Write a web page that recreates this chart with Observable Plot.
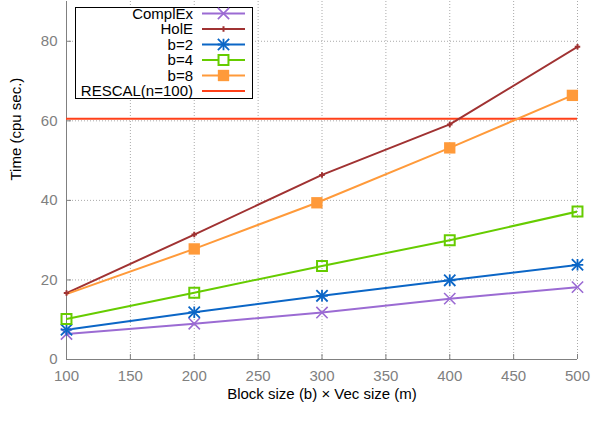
<!DOCTYPE html>
<html>
<head>
<meta charset="utf-8">
<script src="https://cdn.jsdelivr.net/npm/d3@7"></script>
<script src="https://cdn.jsdelivr.net/npm/@observablehq/plot@0.6"></script>
<style>
  html, body { margin: 0; padding: 0; background: white; }
</style>
</head>
<body>
<div id="chart"></div>
<script>
// ---- data ----
const xValues   = [100, 200, 300, 400, 500];
const xValuesB8 = [96, 200, 296, 400, 496];   // b=8 needs m integer: 8*12, 8*37, 8*62
const complEx   = [6.4, 9.0, 11.8, 15.3, 18.2];
const holE      = [16.7, 31.4, 46.4, 59.1, 78.6];
const b2        = [7.5, 11.9, 16.0, 19.9, 23.8];
const b4        = [10.2, 16.8, 23.5, 30.0, 37.2];
const b8        = [16.0, 27.8, 39.4, 53.2, 66.4];
const rescal    = 60.5;

const xTicks = [100, 150, 200, 250, 300, 350, 400, 450, 500];
const yTicks = [0, 20, 40, 60, 80];

const seriesNames  = ["ComplEx", "HolE", "b=2", "b=4", "b=8"];
const rescalName   = "RESCAL(n=100)";
const seriesColors = ["#9b6bd3", "#a03232", "#0b66c6", "#66cc00", "#ff9a3a"];
const rescalColor  = "#ff4019";

const xTitle = "Block size (b) \u00d7 Vec size (m)";
const yTitle = "Time (cpu sec.)";

// ---- tables ----
const toRows = (xs, ys) => xs.map((x, i) => ({x, y: ys[i]}));
const tables = [
  toRows(xValues, complEx),
  toRows(xValues, holE),
  toRows(xValues, b2),
  toRows(xValues, b4),
  toRows(xValuesB8, b8)
];

// marker styles (symbol, r, fill, strokeWidth)
const markerDefs = [
  [{symbol: "times", r: 5.2, fill: "none", sw: 1.6}],
  [{symbol: "plus", r: 1.9, fill: "none", sw: 2}],
  [{symbol: "plus", r: 3.8, fill: "none", sw: 1.8}, {symbol: "times", r: 5.2, fill: "none", sw: 1.8}],
  [{symbol: "square", r: 5.6, fill: "none", sw: 2}],
  [{symbol: "square", r: 6.4, fill: "color", sw: 0}]
];

const gray = "#808080";
const marks = [
  Plot.gridX(xTicks, {stroke: "#aaaaaa", strokeOpacity: 1, strokeDasharray: "1,2"}),
  Plot.gridY(yTicks, {stroke: "#aaaaaa", strokeOpacity: 1, strokeDasharray: "1,2"}),
  Plot.ruleX([100], {stroke: gray}),
  Plot.ruleY([0], {stroke: gray}),
  Plot.tickX(xTicks, {x: d => d, stroke: gray, insetTop: 353}),
  Plot.tickY(yTicks, {y: d => d, stroke: gray, insetRight: 506}),
  Plot.axisX({ticks: xTicks, tickSize: 0, tickPadding: 11, fill: gray, label: null}),
  Plot.axisY({ticks: yTicks, tickSize: 0, tickPadding: 9, fill: gray, label: null}),
  Plot.text([xTitle], {frameAnchor: "bottom", dy: 39, fill: "black"}),
  Plot.text([yTitle], {frameAnchor: "left", rotate: -90, dx: -50, fill: "black"}),
  Plot.ruleY([rescal], {stroke: rescalColor, strokeWidth: 2})
];

tables.forEach((rows, i) => {
  marks.push(Plot.line(rows, {x: "x", y: "y", stroke: seriesColors[i], strokeWidth: 2, clip: true}));
});
tables.forEach((rows, i) => {
  markerDefs[i].forEach(m => {
    marks.push(Plot.dot(rows.filter(d => d.x >= 100), {
      x: "x", y: "y", symbol: m.symbol, r: m.r,
      fill: m.fill === "color" ? seriesColors[i] : "none",
      stroke: m.sw > 0 ? seriesColors[i] : "none",
      strokeWidth: m.sw
    }));
  });
});

const chart = Plot.plot({
  width: 592,
  height: 440,
  marginLeft: 66,
  marginRight: 15,
  marginTop: 1,
  marginBottom: 81,
  x: {domain: [100, 500]},
  y: {domain: [0, 90]},
  style: {fontFamily: "'Liberation Sans', Arial, Helvetica, sans-serif", fontSize: "15px", background: "white", color: "black"},
  marks
});
document.getElementById("chart").append(chart);

// ---- legend (inside plot, top-left) ----
const svg = d3.select(chart);
const lg = svg.append("g").attr("class", "legend");
lg.append("rect")
  .attr("x", 75.5).attr("y", 7.5).attr("width", 177).attr("height", 91)
  .attr("fill", "white").attr("stroke", "black").attr("stroke-width", 1);

const symType = {times: d3.symbolTimes, plus: d3.symbolPlus, square: d3.symbolSquare};
const legendNames = seriesNames.concat([rescalName]);
const legendColors = seriesColors.concat([rescalColor]);
legendNames.forEach((name, i) => {
  const cy = 13.5 + i * 15.5;
  lg.append("text")
    .attr("x", 193).attr("y", cy).attr("dy", "0.35em")
    .attr("text-anchor", "end").attr("fill", "black")
    .style("font-size", "15px")
    .text(name);
  lg.append("line")
    .attr("x1", 202).attr("x2", 245).attr("y1", cy).attr("y2", cy)
    .attr("stroke", legendColors[i]).attr("stroke-width", 2);
  if (i < markerDefs.length) {
    markerDefs[i].forEach(m => {
      lg.append("path")
        .attr("transform", `translate(223.5,${cy})`)
        .attr("d", d3.symbol().type(symType[m.symbol]).size(Math.PI * m.r * m.r)())
        .attr("fill", m.fill === "color" ? legendColors[i] : (m.symbol === "square" ? "white" : "none"))
        .attr("stroke", m.sw > 0 ? legendColors[i] : "none")
        .attr("stroke-width", m.sw);
    });
  }
});
</script>
</body>
</html>
